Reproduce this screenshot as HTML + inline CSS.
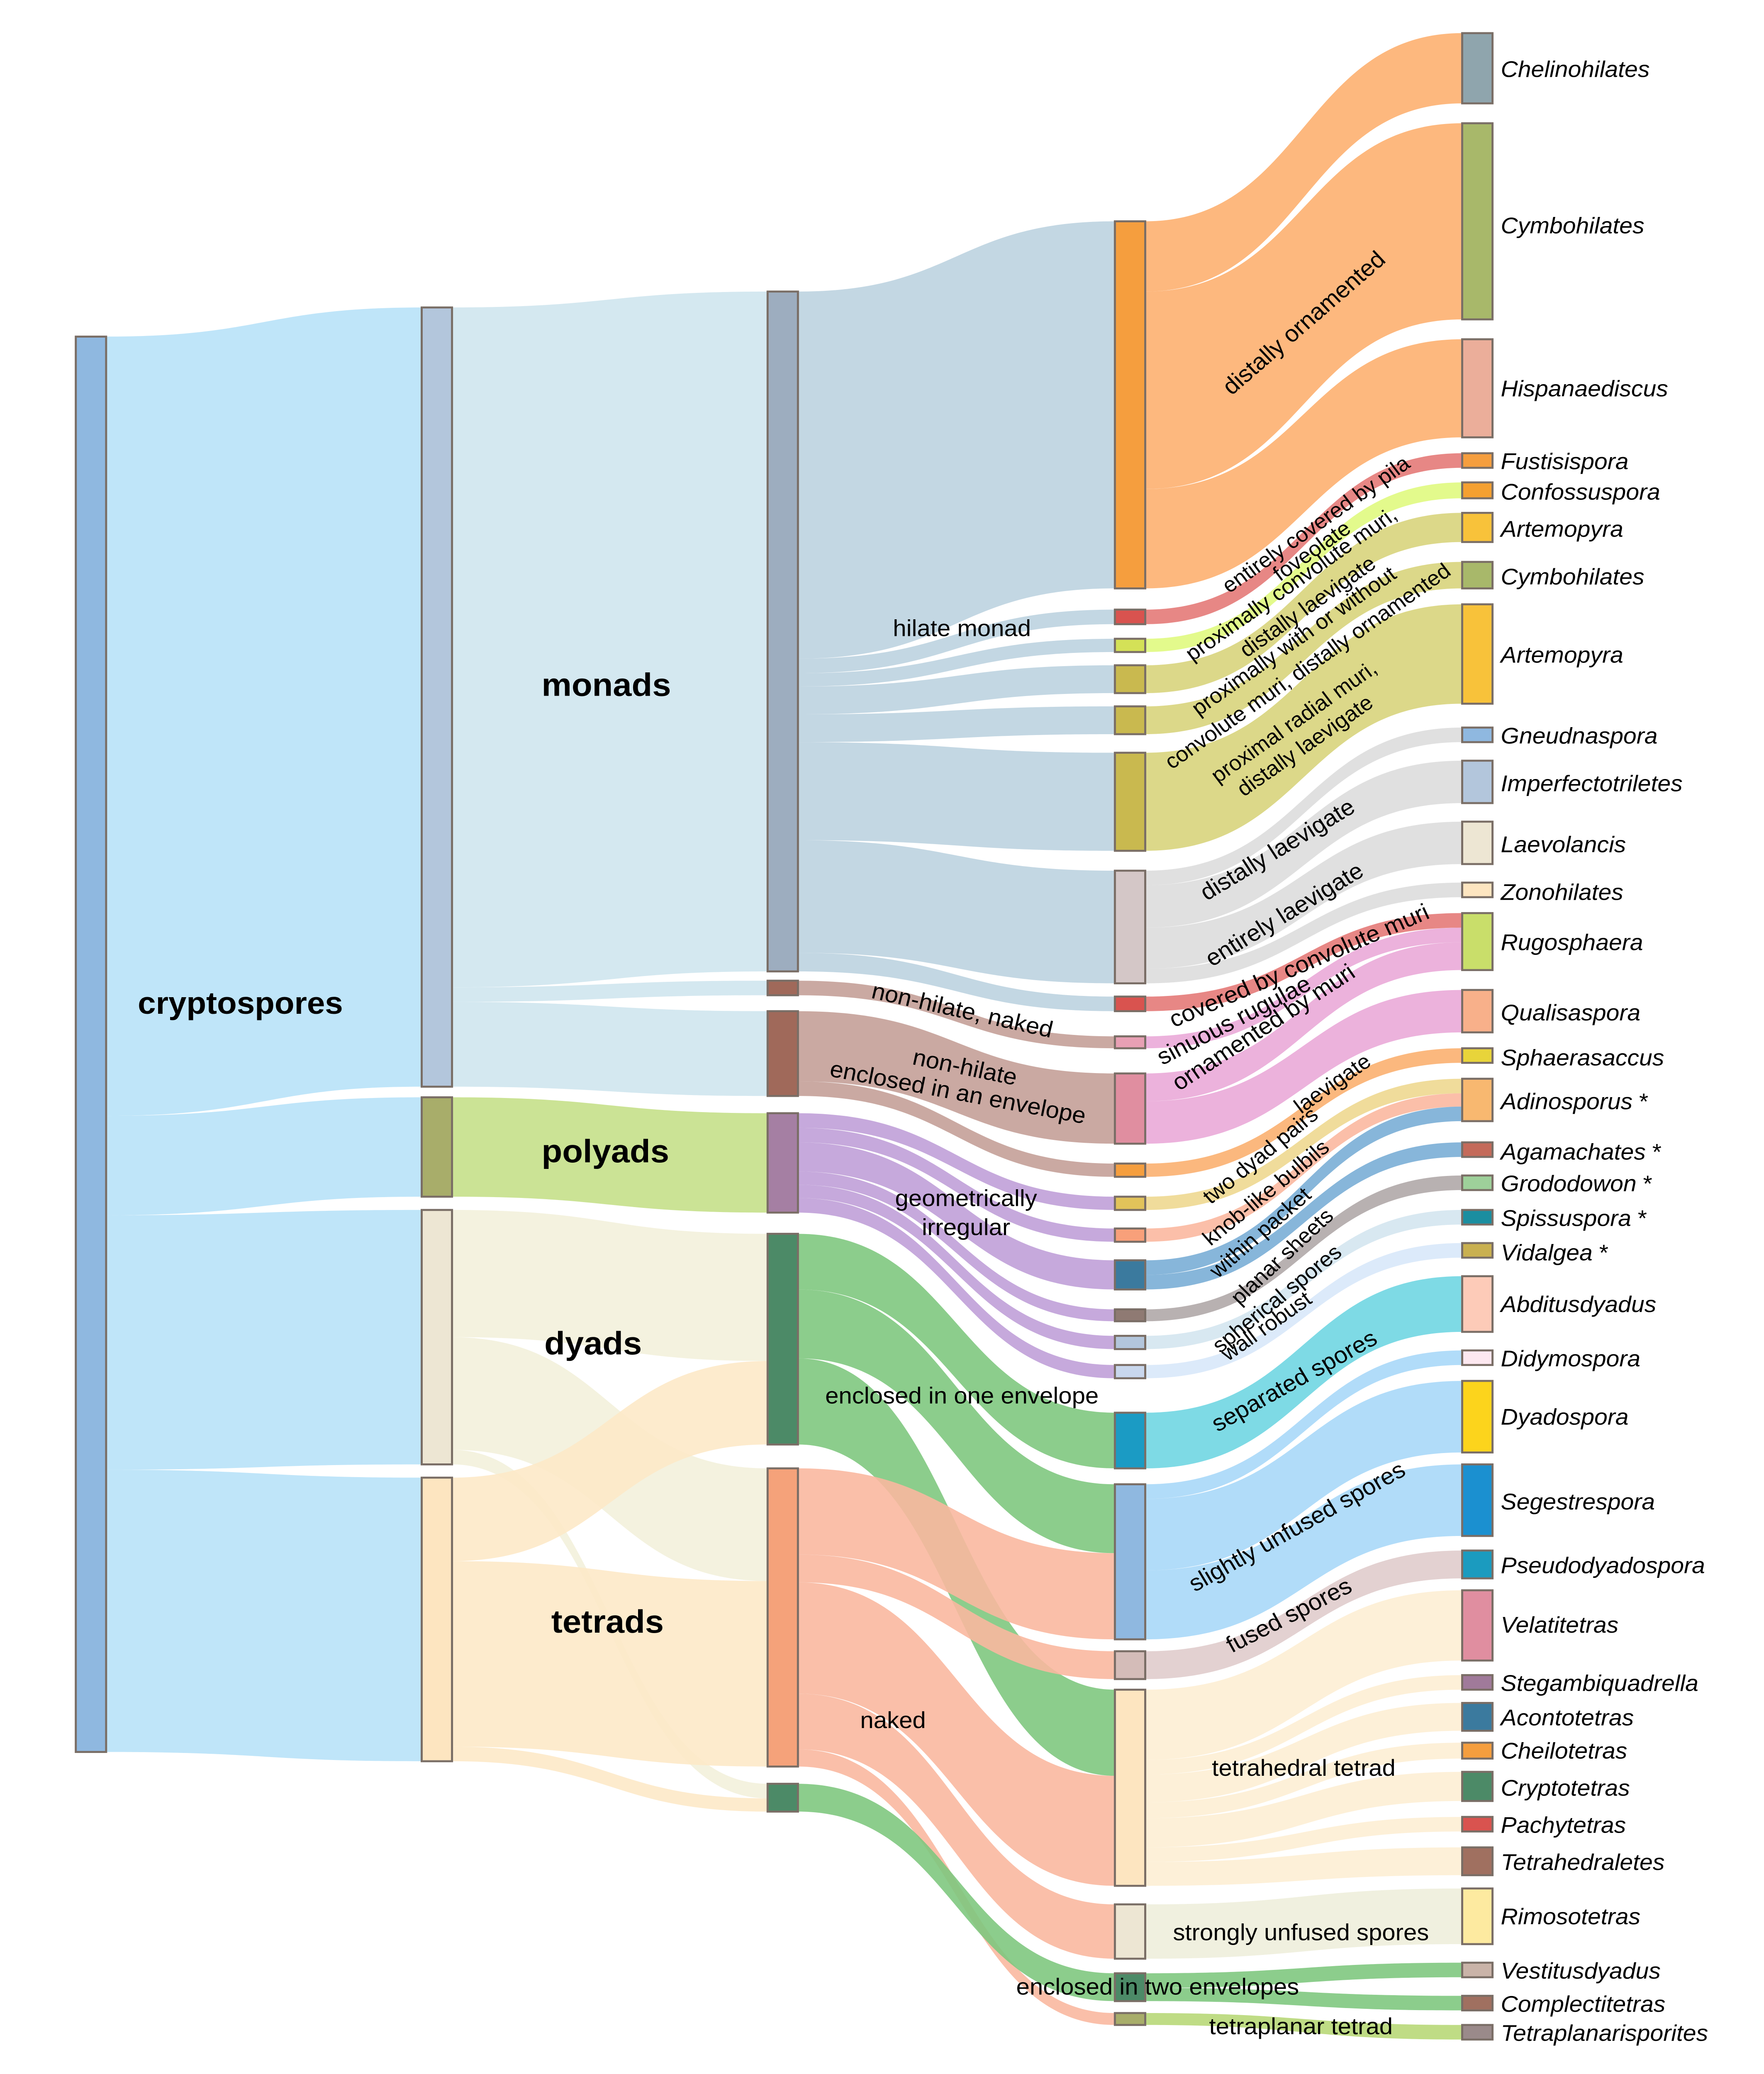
<!DOCTYPE html>
<html><head><meta charset="utf-8"><style>
html,body{margin:0;padding:0;background:#fff;overflow:hidden;width:100%;height:100%}
svg{display:block;position:fixed;left:0;top:0;width:100vw;height:100vh}
text{font-family:"Liberation Sans",Arial,sans-serif;fill:#000}
.b{font-weight:bold}
.i{font-style:italic;font-size:17.2px}
.l{font-size:17.5px}
.r{font-size:16px}
</style></head><body>
<svg id="s" xmlns="http://www.w3.org/2000/svg" viewBox="0 0 1280 1565" preserveAspectRatio="none">
<g id="links"></g>
<g id="nodes"></g>
<g>
<text class="b" x="100" y="765" font-size="23.5">cryptospores</text>
<text class="b" x="393" y="525" font-size="24.5">monads</text>
<text class="b" x="393" y="877" font-size="24.5">polyads</text>
<text class="b" x="395" y="1022" font-size="24.5">dyads</text>
<text class="b" x="400" y="1232" font-size="24.5">tetrads</text>

<text class="l" text-anchor="middle" x="698" y="480">hilate monad</text>
<text class="l" text-anchor="middle" transform="translate(697,768) rotate(13)">non-hilate, naked</text>
<text class="l" text-anchor="middle" transform="translate(699,811) rotate(12)">non-hilate</text>
<text class="l" text-anchor="middle" transform="translate(694,830) rotate(11)">enclosed in an envelope</text>
<text class="l" text-anchor="middle" x="701" y="910">geometrically</text>
<text class="l" text-anchor="middle" x="701" y="932">irregular</text>
<text class="l" text-anchor="middle" x="698" y="1059">enclosed in one envelope</text>
<text class="l" text-anchor="middle" x="648" y="1304">naked</text>
<text class="l" text-anchor="middle" x="840" y="1505">enclosed in two envelopes</text>
<text class="l" text-anchor="middle" x="944" y="1535">tetraplanar tetrad</text>
<text class="l" text-anchor="middle" x="944" y="1464">strongly unfused spores</text>
<text class="l" text-anchor="middle" x="946" y="1340">tetrahedral tetrad</text>

<text class="l" text-anchor="middle" transform="translate(950,248) rotate(-42)">distally ornamented</text>
<text class="r" text-anchor="middle" transform="translate(958,400) rotate(-36)">entirely covered by pila</text>
<text class="r" text-anchor="middle" transform="translate(955,420) rotate(-36)">foveolate</text>
<text class="r" text-anchor="middle" transform="translate(940,445) rotate(-36)">proximally convolute muri,</text>
<text class="r" text-anchor="middle" transform="translate(952,462) rotate(-36)">distally laevigate</text>
<text class="r" text-anchor="middle" transform="translate(942,488) rotate(-36)">proximally with or without</text>
<text class="r" text-anchor="middle" transform="translate(952,507) rotate(-36)">convolute muri, distally ornamented</text>
<text class="r" text-anchor="middle" transform="translate(942,549) rotate(-36)">proximal radial muri,</text>
<text class="r" text-anchor="middle" transform="translate(950,567) rotate(-36)">distally laevigate</text>
<text class="l" text-anchor="middle" transform="translate(930,646) rotate(-32)">distally laevigate</text>
<text class="l" text-anchor="middle" transform="translate(935,695) rotate(-32)">entirely laevigate</text>
<text class="l" text-anchor="middle" transform="translate(945,734) rotate(-24)">covered by convolute muri</text>
<text class="l" text-anchor="middle" transform="translate(898,775) rotate(-28)">sinuous rugulae</text>
<text class="l" text-anchor="middle" transform="translate(920,780) rotate(-34)">ornamented by muri</text>
<text class="r" text-anchor="middle" transform="translate(970,822) rotate(-36)">laevigate</text>
<text class="r" text-anchor="middle" transform="translate(918,876) rotate(-40)">two dyad pairs</text>
<text class="r" text-anchor="middle" transform="translate(922,904) rotate(-40)">knob-like bulbils</text>
<text class="r" text-anchor="middle" transform="translate(918,934) rotate(-42)">within packet</text>
<text class="r" text-anchor="middle" transform="translate(934,952) rotate(-44)">planar sheets</text>
<text class="r" text-anchor="middle" transform="translate(930,984) rotate(-40)">spherical spores</text>
<text class="r" text-anchor="middle" transform="translate(922,1005) rotate(-36)">wall robust</text>
<text class="l" text-anchor="middle" transform="translate(942,1047) rotate(-30)">separated spores</text>
<text class="l" text-anchor="middle" transform="translate(944,1157) rotate(-30)">slightly unfused spores</text>
<text class="l" text-anchor="middle" transform="translate(938,1224) rotate(-28)">fused spores</text>

<text class="i" x="1089" y="58">Chelinohilates</text>
<text class="i" x="1089" y="176">Cymbohilates</text>
<text class="i" x="1089" y="299">Hispanaediscus</text>
<text class="i" x="1089" y="354">Fustisispora</text>
<text class="i" x="1089" y="377">Confossuspora</text>
<text class="i" x="1089" y="405">Artemopyra</text>
<text class="i" x="1089" y="441">Cymbohilates</text>
<text class="i" x="1089" y="500">Artemopyra</text>
<text class="i" x="1089" y="561">Gneudnaspora</text>
<text class="i" x="1089" y="597">Imperfectotriletes</text>
<text class="i" x="1089" y="643">Laevolancis</text>
<text class="i" x="1089" y="679">Zonohilates</text>
<text class="i" x="1089" y="717">Rugosphaera</text>
<text class="i" x="1089" y="770">Qualisaspora</text>
<text class="i" x="1089" y="804">Sphaerasaccus</text>
<text class="i" x="1089" y="837">Adinosporus <tspan font-style="normal">*</tspan></text>
<text class="i" x="1089" y="875">Agamachates <tspan font-style="normal">*</tspan></text>
<text class="i" x="1089" y="899">Grododowon <tspan font-style="normal">*</tspan></text>
<text class="i" x="1089" y="925">Spissuspora <tspan font-style="normal">*</tspan></text>
<text class="i" x="1089" y="951">Vidalgea <tspan font-style="normal">*</tspan></text>
<text class="i" x="1089" y="990">Abditusdyadus</text>
<text class="i" x="1089" y="1031">Didymospora</text>
<text class="i" x="1089" y="1075">Dyadospora</text>
<text class="i" x="1089" y="1139">Segestrespora</text>
<text class="i" x="1089" y="1187">Pseudodyadospora</text>
<text class="i" x="1089" y="1232">Velatitetras</text>
<text class="i" x="1089" y="1276">Stegambiquadrella</text>
<text class="i" x="1089" y="1302">Acontotetras</text>
<text class="i" x="1089" y="1327">Cheilotetras</text>
<text class="i" x="1089" y="1355">Cryptotetras</text>
<text class="i" x="1089" y="1383">Pachytetras</text>
<text class="i" x="1089" y="1411">Tetrahedraletes</text>
<text class="i" x="1089" y="1452">Rimosotetras</text>
<text class="i" x="1089" y="1493">Vestitusdyadus</text>
<text class="i" x="1089" y="1518">Complectitetras</text>
<text class="i" x="1089" y="1540">Tetraplanarisporites</text>
</g>
<script>
var X=[55,306,557,809,1061],W=22,NS="http://www.w3.org/2000/svg";
var N=[
[0,254,1322,"#8fb8e0"],
[1,232,820,"#b3c6dc"],[1,828,903,"#a8ad6a"],[1,913,1105,"#ede6d3"],[1,1115,1329,"#fde5c0"],
[2,220,733,"#9dadbf"],[2,740,751,"#a0695a"],[2,763,827,"#a0695a"],[2,840,915,"#a57fa3"],[2,931,1090,"#4c8a67"],[2,1108,1333,"#f5a27a"],[2,1346,1367,"#4c8a67"],
[3,167,444,"#f59e3e"],[3,460,471,"#d9534f"],[3,482,492,"#d4e157"],[3,502,523,"#c9b94f"],[3,533,554,"#c9b94f"],[3,568,642,"#c9b94f"],[3,657,742,"#d4c7c7"],[3,752,763,"#d9534f"],[3,782,791,"#e8a0b4"],[3,810,863,"#e08ea0"],[3,878,888,"#f59e3e"],[3,903,913,"#e2c35a"],[3,927,937,"#f8a07a"],[3,951,973,"#3b7a9e"],[3,988,997,"#8f7a73"],[3,1008,1018,"#b3c6dc"],[3,1030,1040,"#c9d7ed"],[3,1066,1108,"#1b9bc4"],[3,1120,1237,"#8fb8e0"],[3,1246,1267,"#d4bcb8"],[3,1275,1423,"#fde5c0"],[3,1437,1478,"#ede6d3"],[3,1489,1510,"#4c8a67"],[3,1519,1528,"#a8ad6a"],
[4,25,78,"#8fa5ad"],[4,93,241,"#a8b86a"],[4,256,330,"#ebae9a"],[4,342,353,"#f59e3e"],[4,364,376,"#f5a030"],[4,387,409,"#f8c23a"],[4,424,444,"#a8b86a"],[4,456,531,"#f8c23a"],[4,549,560,"#8fb8e0"],[4,574,606,"#b3c6dc"],[4,620,652,"#ede6d3"],[4,666,677,"#fde5c0"],[4,689,732,"#c9de6a"],[4,747,779,"#f8b08a"],[4,791,802,"#e8d43a"],[4,814,846,"#f8b870"],[4,862,873,"#c46a5a"],[4,887,898,"#9ed09a"],[4,913,924,"#1b8ea0"],[4,938,949,"#c9b050"],[4,963,1005,"#fdcbb8"],[4,1019,1030,"#fde8f0"],[4,1042,1096,"#fcd41c"],[4,1105,1159,"#1b90d0"],[4,1170,1191,"#1b9bbf"],[4,1200,1253,"#e08ea0"],[4,1264,1275,"#a07a9a"],[4,1285,1306,"#3b7a9e"],[4,1315,1327,"#f59e3e"],[4,1337,1359,"#4c8a67"],[4,1371,1382,"#d9534f"],[4,1394,1415,"#a07060"],[4,1425,1467,"#fdeaa0"],[4,1481,1492,"#c9b3a8"],[4,1506,1517,"#a07060"],[4,1528,1539,"#9a8a8a"]];
var LB="#b8e2f8",MO="#cfe6ee",HI="#bcd3e0",PU="#c0a0d8",GR="#80c880",SA="#f9b8a0",OR="#fdb070",OL="#d8d47c",GY="#dddddd",PK="#eaaad8",TE="#fdeed4",DY="#f3f1dc",TP="#fde9c8";
var L=[
[0,254,842,232,820,LB],[0,842,917,828,903,LB],[0,917,1109,913,1105,LB],[0,1109,1322,1115,1329,LB],
[1,232,745,220,733,MO],[1,745,756,740,751,MO],[1,756,820,763,827,MO],[1,828,903,840,915,"#c5e08a"],
[1,913,1009,931,1027,DY],[1,1009,1094,1108,1193,DY],[1,1094,1105,1346,1357,DY],
[1,1115,1178,1027,1090,TP],[1,1178,1318,1193,1333,TP],[1,1318,1329,1357,1367,TP],
[2,220,497,167,444,HI],[2,497,508,460,471,HI],[2,508,518,482,492,HI],[2,518,539,502,523,HI],[2,539,560,533,554,HI],[2,560,634,568,642,HI],[2,634,719,657,742,HI],[2,719,733,752,763,HI],
[2,740,751,782,791,"#c4a098"],[2,763,816,810,863,"#c4a098"],[2,816,827,878,888,"#c4a098"],
[2,840,851,903,913,PU],[2,851,862,927,937,PU],[2,862,884,951,973,PU],[2,884,894,988,997,PU],[2,894,904,1008,1018,PU],[2,904,915,1030,1040,PU],
[2,931,973,1066,1108,GR],[2,973,1025,1120,1172,GR],[2,1025,1090,1275,1340,GR],
[2,1108,1173,1172,1237,SA],[2,1173,1194,1246,1267,SA],[2,1194,1278,1340,1423,SA],[2,1278,1320,1437,1478,SA],[2,1320,1333,1519,1528,SA],
[2,1346,1367,1489,1510,GR],
[3,167,220,25,78,OR],[3,220,369,93,241,OR],[3,369,444,256,330,OR],
[3,460,471,342,353,"#e47a78"],[3,482,492,364,376,"#e0fa80"],[3,502,523,387,409,OL],[3,533,554,424,444,OL],[3,568,642,456,531,OL],
[3,657,668,549,560,GY],[3,668,700,574,606,GY],[3,700,731,620,652,GY],[3,731,742,666,677,GY],
[3,752,763,689,700,"#e47a78"],[3,782,791,700,711,PK],[3,810,831,711,732,PK],[3,831,863,747,779,PK],
[3,878,888,791,802,"#fbb070"],[3,903,913,814,825,"#eed890"],[3,927,937,825,835,"#fbb8a0"],[3,951,962,835,846,"#7aaed6"],[3,962,973,862,873,"#7aaed6"],
[3,988,997,887,898,"#b0a8a8"],[3,1008,1018,913,924,"#d4e6f0"],[3,1030,1040,938,949,"#d8e8fa"],
[3,1066,1108,963,1005,"#70d6e2"],[3,1120,1131,1019,1030,"#a8d8f8"],[3,1131,1185,1042,1096,"#a8d8f8"],[3,1185,1237,1105,1159,"#a8d8f8"],
[3,1246,1267,1170,1191,"#e0cccc"],
[3,1275,1328,1200,1253,TE],[3,1328,1339,1264,1275,TE],[3,1339,1360,1285,1306,TE],[3,1360,1372,1315,1327,TE],[3,1372,1394,1337,1359,TE],[3,1394,1405,1371,1382,TE],[3,1405,1423,1394,1415,TE],
[3,1437,1478,1425,1467,"#eeeedc"],[3,1489,1500,1481,1492,GR],[3,1500,1510,1506,1517,GR],[3,1519,1528,1528,1539,"#b8d878"]];
var lg=document.getElementById("links"),ng=document.getElementById("nodes");
L.forEach(function(l){var x0=X[l[0]]+W,x1=X[l[0]+1],m=(x0+x1)/2;
var p=document.createElementNS(NS,"path");
p.setAttribute("d","M"+x0+","+l[1]+"C"+m+","+l[1]+" "+m+","+l[3]+" "+x1+","+l[3]+"L"+x1+","+l[4]+"C"+m+","+l[4]+" "+m+","+l[2]+" "+x0+","+l[2]+"Z");
p.setAttribute("fill",l[5]);p.setAttribute("fill-opacity","0.9");lg.appendChild(p);});
N.forEach(function(n){var r=document.createElementNS(NS,"rect");
r.setAttribute("x",X[n[0]]);r.setAttribute("y",n[1]);r.setAttribute("width",W);r.setAttribute("height",n[2]-n[1]);
r.setAttribute("fill",n[3]);r.setAttribute("stroke","#7a6e66");r.setAttribute("stroke-width","1.5");ng.appendChild(r);});
</script>
</svg>
</body></html>
